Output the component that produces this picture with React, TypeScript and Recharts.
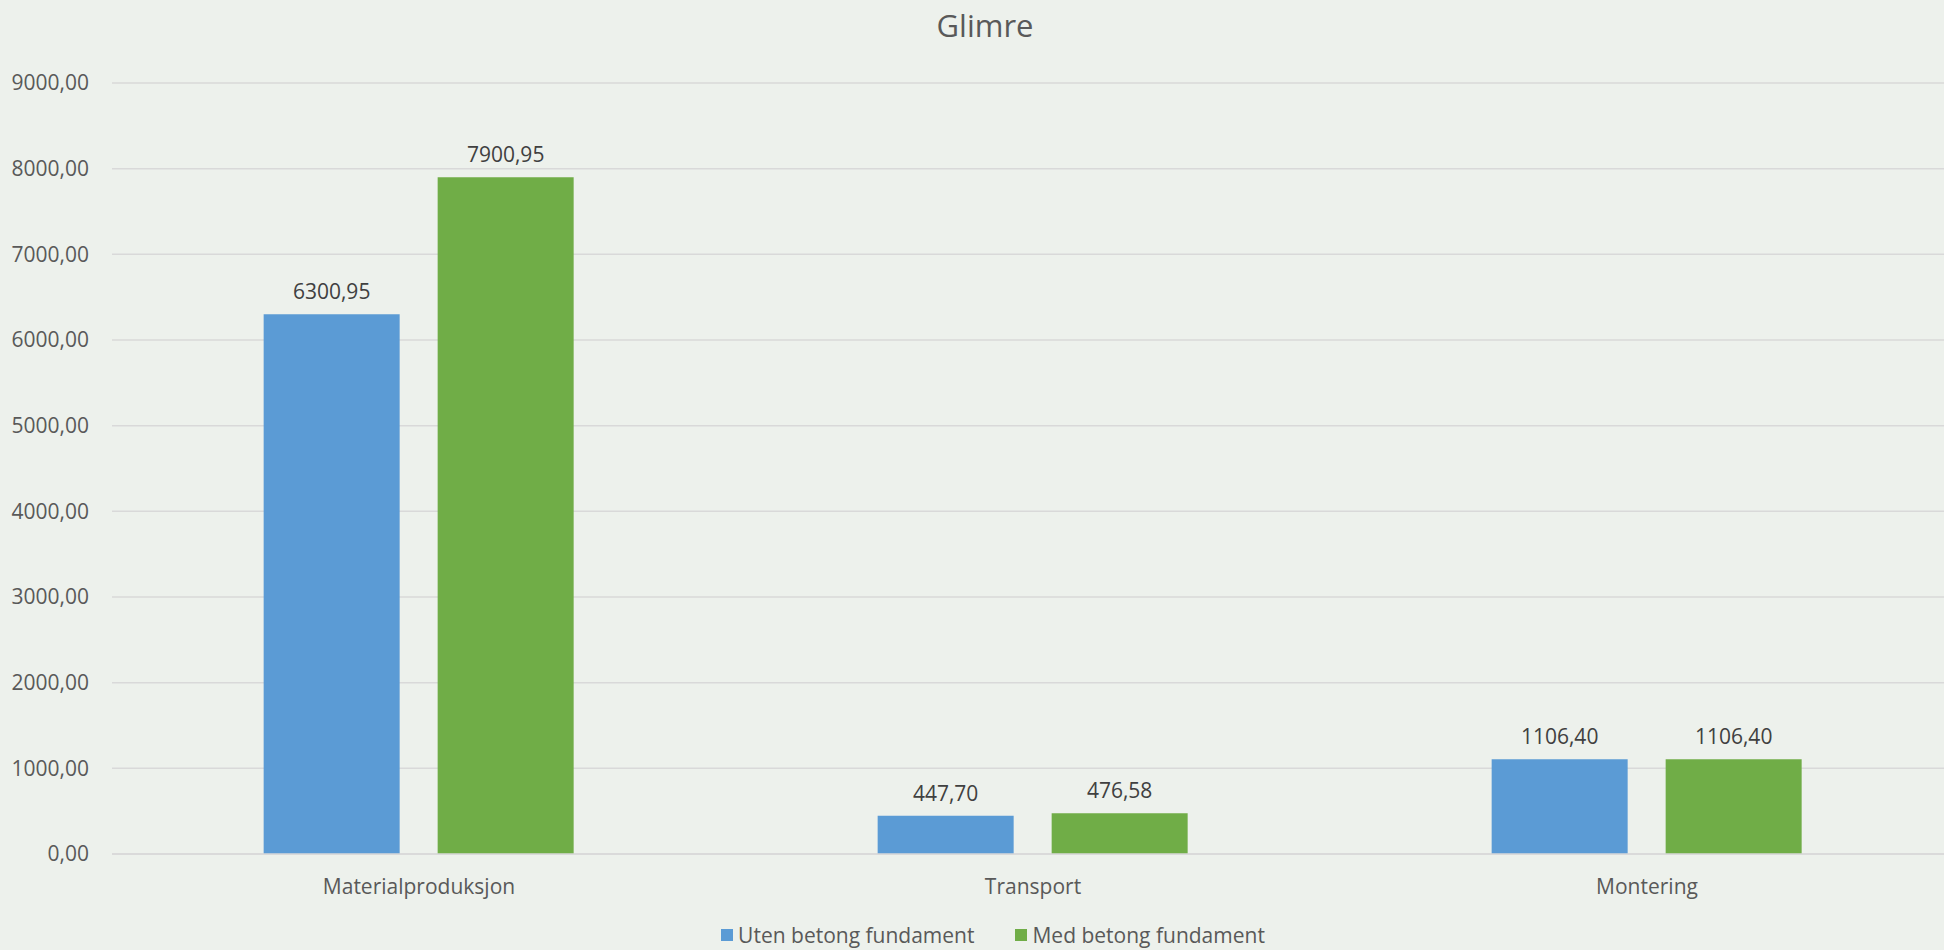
import React from 'react';
import { BarChart, Bar, XAxis, YAxis, CartesianGrid, Legend, LabelList } from 'recharts';

const categories = ['Materialproduksjon', 'Transport', 'Montering'];
const utenBetong = [6300.95, 447.7, 1106.4];
const medBetong = [7900.95, 476.58, 1106.4];
const yTicks = [0, 1000, 2000, 3000, 4000, 5000, 6000, 7000, 8000, 9000];

const seriesNames = ['Uten betong fundament', 'Med betong fundament'];
const seriesColors = ['#5B9BD5', '#70AD47'];

const data = categories.map((name, i) => ({
  name,
  uten: utenBetong[i],
  med: medBetong[i]
}));

const fmt = (v: any) => (typeof v === 'number' ? v.toFixed(2).replace('.', ',') : v);

const FONT = '"Open Sans", sans-serif';

// legend is laid out by hand so it sits like the Excel one
const LegendContent = () => (
  <div style={styles.legend}>
    {seriesNames.map((n, i) => (
      <div key={n} style={{ display: 'flex', alignItems: 'center', marginRight: i === 0 ? 41 : 0 }}>
        <span style={{ width: 12, height: 12, background: seriesColors[i], marginRight: 5, display: 'inline-block' }} />
        <span>{n}</span>
      </div>
    ))}
  </div>
);

const App: React.FC = () => {
  return (
    <div style={styles.page}>
      <div style={styles.title}>Glimre</div>
      <BarChart
        width={1954}
        height={950}
        data={data}
        margin={{ top: 83, right: 0, left: 0, bottom: 0 }}
        barCategoryGap="24.7%"
        barGap={38}
      >
        <CartesianGrid vertical={false} stroke="#D9D9D9" strokeWidth={1.5} />
        <XAxis
          dataKey="name"
          height={72}
          axisLine={{ stroke: '#D9D9D9', strokeWidth: 1.5 }}
          tickLine={false}
          tickMargin={19}
          tick={{ fill: '#595959', fontSize: 21, fontFamily: FONT }}
        />
        <YAxis
          width={112}
          domain={[0, 9000]}
          ticks={yTicks}
          interval={0}
          axisLine={false}
          tickLine={false}
          tickMargin={17}
          tickFormatter={fmt}
          tick={{ fill: '#595959', fontSize: 21, fontFamily: FONT }}
        />
        <Legend
          verticalAlign="bottom"
          height={24}
          wrapperStyle={{ width: 1944, bottom: 3 }}
          content={<LegendContent />}
        />
        <Bar dataKey="uten" name={seriesNames[0]} fill={seriesColors[0]} isAnimationActive={false}>
          <LabelList dataKey="uten" position="top" offset={15} formatter={fmt} fill="#404040" fontSize={21} fontFamily={FONT} />
        </Bar>
        <Bar dataKey="med" name={seriesNames[1]} fill={seriesColors[1]} isAnimationActive={false}>
          <LabelList dataKey="med" position="top" offset={15} formatter={fmt} fill="#404040" fontSize={21} fontFamily={FONT} />
        </Bar>
      </BarChart>
    </div>
  );
};

const styles = {
  page: {
    position: 'absolute' as const,
    top: 0,
    left: 0,
    width: 1944,
    height: 950,
    overflow: 'hidden' as const,
    background: '#EDF1EC',
    fontFamily: FONT
  },
  title: {
    position: 'absolute' as const,
    top: 4,
    left: 0,
    width: 1944,
    paddingLeft: 26,
    boxSizing: 'border-box' as const,
    textAlign: 'center' as const,
    fontSize: 31,
    color: '#595959',
    lineHeight: '42px'
  },
  legend: {
    display: 'flex',
    justifyContent: 'center',
    alignItems: 'center',
    height: 24,
    paddingLeft: 42,
    fontSize: 21,
    lineHeight: '24px',
    color: '#595959',
    fontFamily: FONT
  }
};

export default App;
